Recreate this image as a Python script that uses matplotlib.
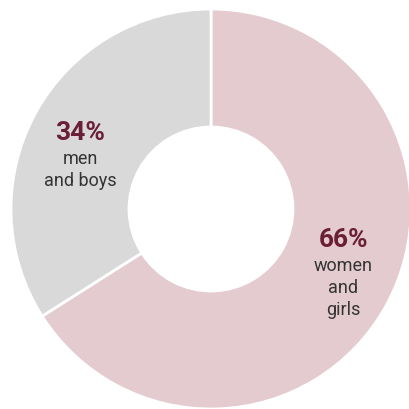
import matplotlib.pyplot as plt

labels = ['women\nand\ngirls', 'men\nand boys']
shares = [66, 34]
colors = ['#e3cbd0', '#d9d9d9']

fig = plt.figure(figsize=(4.10, 4.09), dpi=100)
ax = fig.add_axes([0, 0, 1, 1])

ax.pie(shares, colors=colors, startangle=90, counterclock=False,
       radius=1.0, wedgeprops=dict(width=0.59, edgecolor='white', linewidth=2))

# text positions in data coords (centre 0,0, radius 1)
pos = [(0.66, -0.155), (-0.655, 0.38)]
for lab, val, (x, y) in zip(labels, shares, pos):
    ax.text(x, y, f'{val}%', ha='center', va='center', fontsize=19,
            fontweight='bold', color='#6b1f36', family='Roboto')
    ax.text(x, y - 0.085, lab, ha='center', va='top', fontsize=13,
            color='#333333', family='Roboto', linespacing=1.3)

ax.set_xlim(-1.055, 0.995)
ax.set_ylim(-1.0, 1.045)
ax.set_aspect('equal')
ax.axis('off')

fig.savefig('out.png', dpi=100)
